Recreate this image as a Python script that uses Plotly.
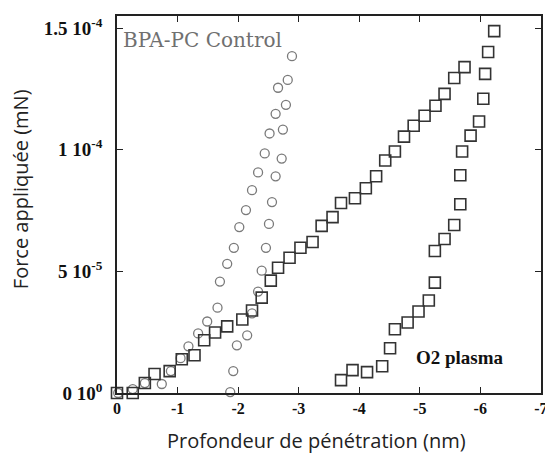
import plotly.graph_objects as go

# BPA-PC control (circles): loading and unloading branches, depth in nm, force in 1e-5 mN
ctrl_load_x = [-0.02, -0.26, -0.46, -0.74, -0.89, -1.05, -1.18, -1.34, -1.49, -1.66, -1.70,
               -1.82, -1.93, -2.02, -2.13, -2.23, -2.33, -2.44, -2.52, -2.62, -2.66, -2.89]
ctrl_load_y = [0.0, 0.16, 0.41, 0.37, 0.90, 1.43, 1.92, 2.45, 2.94, 3.51, 4.58,
               5.31, 5.97, 6.82, 7.52, 8.34, 9.07, 9.85, 10.67, 11.48, 12.55, 13.85]
ctrl_unload_x = [-2.82, -2.79, -2.74, -2.72, -2.62, -2.56, -2.51, -2.46, -2.39, -2.33,
                 -2.23, -2.15, -1.98, -1.92, -1.87]
ctrl_unload_y = [12.87, 11.85, 10.83, 9.64, 8.91, 7.85, 6.95, 5.97, 5.03, 4.17,
                 3.27, 2.37, 1.96, 0.90, 0.04]

# squares, middle curve
sq_x = [0.0, -0.26, -0.46, -0.62, -0.87, -1.07, -1.28, -1.44, -1.62, -1.82, -2.07, -2.23,
        -2.39, -2.54, -2.66, -2.85, -3.03, -3.23, -3.38, -3.56, -3.70, -3.93, -4.11, -4.28,
        -4.43, -4.59, -4.74, -4.90, -5.08, -5.26, -5.41, -5.57, -5.74]
sq_y = [0.0, 0.0, 0.41, 0.78, 0.90, 1.39, 1.55, 2.17, 2.49, 2.74, 3.02, 3.39,
        3.92, 4.62, 5.15, 5.56, 5.97, 6.21, 6.87, 7.23, 7.81, 8.01, 8.42, 8.91,
        9.56, 9.93, 10.54, 10.99, 11.40, 11.81, 12.30, 12.95, 13.40]

# O2 plasma squares
o2_x = [-3.70, -3.89, -4.13, -4.38, -4.51, -4.59, -4.80, -4.98, -5.15, -5.25, -5.25,
        -5.41, -5.57, -5.67, -5.67, -5.70, -5.84, -5.98, -6.05, -6.08, -6.13, -6.23]
o2_y = [0.53, 0.94, 0.86, 1.10, 1.84, 2.62, 2.90, 3.35, 3.80, 4.54, 5.84,
        6.33, 6.91, 7.76, 8.95, 9.93, 10.58, 11.16, 12.10, 13.12, 14.02, 14.88]

x_ticks = [0, -1, -2, -3, -4, -5, -6, -7]
y_ticks = [0, 5e-5, 1e-4, 1.5e-4]
y_ticktext = ["<b>0 10<sup>0</sup></b>", "<b>5 10<sup>-5</sup></b>",
              "<b>1 10<sup>-4</sup></b>", "<b>1.5 10<sup>-4</sup></b>"]

SCALE = 1e-5
SERIF = "Liberation Serif"
SANS = "Open Sans"

fig = go.Figure()

circle_style = dict(symbol="circle-open", size=9, color="#7a7a7a", line=dict(width=1.3, color="#7a7a7a"))
square_style = dict(symbol="square-open", size=11, color="#333333", line=dict(width=1.6, color="#333333"))

fig.add_trace(go.Scatter(x=ctrl_load_x, y=[v * SCALE for v in ctrl_load_y], mode="markers",
                         marker=circle_style, cliponaxis=False))
fig.add_trace(go.Scatter(x=ctrl_unload_x, y=[v * SCALE for v in ctrl_unload_y], mode="markers",
                         marker=circle_style, cliponaxis=False))
fig.add_trace(go.Scatter(x=sq_x, y=[v * SCALE for v in sq_y], mode="markers",
                         marker=square_style, cliponaxis=False))
fig.add_trace(go.Scatter(x=o2_x, y=[v * SCALE for v in o2_y], mode="markers",
                         marker=square_style, cliponaxis=False))

# the page body keeps its default 8px margin, so the figure is sized to fit inside it
fig.update_layout(
    width=545, height=449,
    margin=dict(l=109, r=9, t=6, b=64),
    paper_bgcolor="white", plot_bgcolor="white",
    showlegend=False,
    annotations=[
        dict(text="BPA-PC Control", x=0.01, y=0.937, xref="paper", yref="paper",
             xanchor="left", yanchor="middle", showarrow=False,
             font=dict(family="DejaVu Serif", size=20, color="#707070")),
        dict(text="<b>O2 plasma</b>", x=0.70, y=0.095, xref="paper", yref="paper",
             xanchor="left", yanchor="middle", showarrow=False,
             font=dict(family=SERIF, size=19, color="#111111")),
        dict(text="Profondeur de pénétration (nm)", x=0.47, y=-0.125, xref="paper", yref="paper",
             xanchor="center", yanchor="middle", showarrow=False,
             font=dict(family=SANS, size=20, color="#222222")),
        dict(text="Force appliquée (mN)", x=-0.227, y=0.54, xref="paper", yref="paper",
             xanchor="center", yanchor="middle", showarrow=False, textangle=-90,
             font=dict(family=SANS, size=20, color="#222222")),
    ],
)

fig.update_xaxes(
    range=[0, -7.003], tickvals=x_ticks, ticktext=[f"<b>{t}</b>" for t in x_ticks],
    ticks="inside", ticklen=6, tickwidth=1.2, tickcolor="#222",
    showline=True, linecolor="#222", linewidth=1.5, mirror="ticks",
    showgrid=False, zeroline=False, ticklabeloverflow="allow",
    tickfont=dict(family=SERIF, size=16, color="#111"),
)
fig.update_yaxes(
    range=[0, 1.55e-4], tickvals=y_ticks, ticktext=y_ticktext,
    ticks="inside", ticklen=6, tickwidth=1.2, tickcolor="#222",
    showline=True, linecolor="#222", linewidth=1.5, mirror="ticks",
    showgrid=False, zeroline=False, ticklabelstandoff=9,
    tickfont=dict(family=SERIF, size=19, color="#111"),
)

fig.write_html("out.html")
